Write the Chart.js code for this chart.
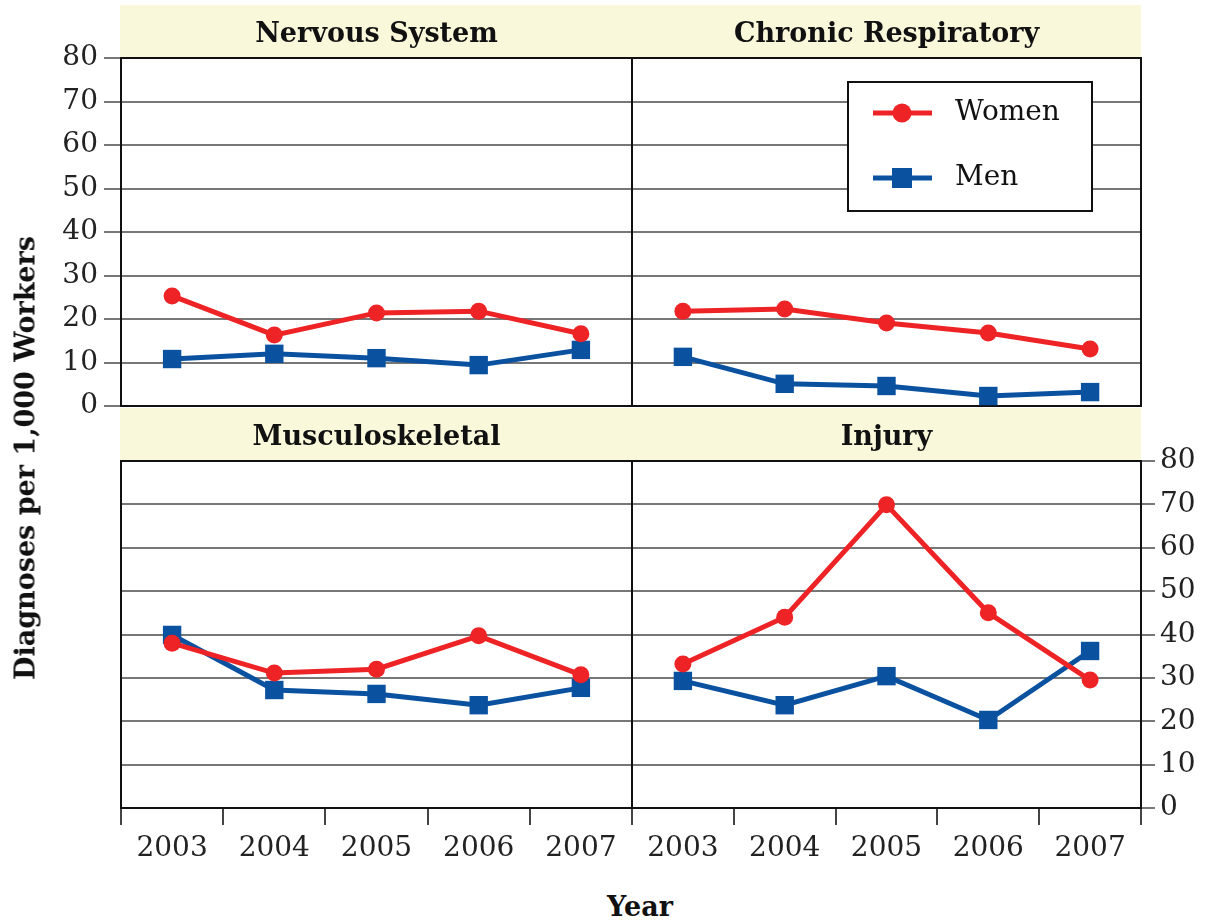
<!DOCTYPE html>
<html>
<head>
<meta charset="utf-8">
<script src="https://cdn.jsdelivr.net/npm/chart.js@4.4.1/dist/chart.umd.min.js"></script>
<style>
  body { margin: 0; background: #fff; }
  #wrap { position: relative; width: 1207px; height: 922px; overflow: hidden; }
  canvas { position: absolute; }
  .axis-title {
    position: absolute;
    font-family: "DejaVu Serif", serif;
    font-weight: bold;
    font-size: 27px;
    color: #111;
    white-space: nowrap;
    transform: translate(-50%, -50%);
  }
  #ytitle { transform: translate(-50%, -50%) rotate(-90deg); }
</style>
</head>
<body>
<div id="wrap">
  <canvas id="nervous" width="640" height="430" style="left:0;top:0"></canvas>
  <canvas id="respiratory" width="524" height="414" style="left:624px;top:0"></canvas>
  <canvas id="musculo" width="640" height="470" style="left:0;top:400px"></canvas>
  <canvas id="injury" width="583" height="470" style="left:624px;top:400px"></canvas>
  <div class="axis-title" id="ytitle" style="left:25px;top:458px">Diagnoses per 1,000 Workers</div>
  <div class="axis-title" style="left:640px;top:906px">Year</div>
</div>
<script>
const years = ['2003', '2004', '2005', '2006', '2007'];
const seriesNames = ['Women', 'Men'];

const nervousWomen = [25.3, 16.3, 21.4, 21.8, 16.6];
const nervousMen = [10.8, 12.0, 11.0, 9.4, 12.9];

const respiratoryWomen = [21.8, 22.3, 19.1, 16.8, 13.1];
const respiratoryMen = [11.3, 5.1, 4.6, 2.3, 3.2];

const musculoWomen = [38.0, 31.1, 32.0, 39.7, 30.7];
const musculoMen = [39.9, 27.2, 26.3, 23.7, 27.7];

const injuryWomen = [33.2, 44.0, 69.9, 45.0, 29.5];
const injuryMen = [29.3, 23.7, 30.4, 20.3, 36.2];

const RED = '#ee2326';
const BLUE = '#0a51a0';
const SERIF = '"DejaVu Serif", serif';

// beige title band above the plot + black frame round it
const panelFrame = {
  id: 'panelFrame',
  beforeDraw(chart, args, o) {
    const { ctx, chartArea: a } = chart;
    ctx.save();
    ctx.fillStyle = '#faf8da';
    ctx.fillRect(a.left - 1, a.top - 53, a.right - a.left + 1, 53);
    ctx.fillStyle = '#111';
    ctx.font = 'bold 27px ' + SERIF;
    ctx.textAlign = 'center';
    ctx.textBaseline = 'middle';
    ctx.fillText(o.text, (a.left + a.right) / 2, a.top - 23);
    ctx.restore();
  },
  beforeDatasetsDraw(chart) {
    const { ctx, chartArea: a } = chart;
    ctx.save();
    ctx.strokeStyle = '#111';
    ctx.lineWidth = 2;
    ctx.strokeRect(a.left, a.top, a.right - a.left, a.bottom - a.top);
    ctx.restore();
  }
};

// boxed legend inside the Chronic Respiratory panel
const boxLegend = {
  id: 'boxLegend',
  afterDatasetsDraw(chart, args, o) {
    if (!o.show) return;
    const { ctx, chartArea: a } = chart;
    const w = 244, h = 129;
    const x = a.right - 49 - w, y = a.top + 24;
    ctx.save();
    ctx.fillStyle = '#fff';
    ctx.fillRect(x, y, w, h);
    ctx.strokeStyle = '#111';
    ctx.lineWidth = 2;
    ctx.strokeRect(x, y, w, h);
    chart.data.datasets.forEach((ds, i) => {
      const cy = y + 31 + i * 65;
      ctx.strokeStyle = ds.borderColor;
      ctx.lineWidth = 5;
      ctx.beginPath();
      ctx.moveTo(x + 25, cy);
      ctx.lineTo(x + 84, cy);
      ctx.stroke();
      ctx.fillStyle = ds.borderColor;
      ctx.beginPath();
      if (ds.pointStyle === 'circle') {
        ctx.arc(x + 54, cy, 9.5, 0, Math.PI * 2);
      } else {
        ctx.rect(x + 44, cy - 10, 20, 20);
      }
      ctx.fill();
      ctx.fillStyle = '#111';
      ctx.font = '28px ' + SERIF;
      ctx.textAlign = 'left';
      ctx.textBaseline = 'middle';
      ctx.fillText(ds.label, x + 107, cy);
    });
    ctx.restore();
  }
};

function makePanel(id, title, women, men, opt) {
  const yAxis = {
    min: 0,
    max: 80,
    position: opt.yPos || 'left',
    border: { display: false },
    grid: {
      color: '#777',
      lineWidth: 2,
      drawTicks: !!opt.yLabels,
      tickLength: opt.yPos === 'right' ? 14 : 17
    },
    ticks: {
      display: !!opt.yLabels,
      stepSize: 10,
      padding: opt.yPos === 'right' ? 5 : 6,
      color: '#222',
      font: { family: SERIF, size: 28 }
    },
    afterFit(s) { s.width = opt.yWidth; }
  };
  const xAxis = {
    display: !!opt.xLabels,
    offset: true,
    border: { display: false },
    grid: {
      offset: true,
      drawOnChartArea: false,
      color: '#444',
      lineWidth: 2,
      tickLength: 17
    },
    ticks: {
      padding: 7,
      color: '#222',
      font: { family: SERIF, size: 28 }
    },
    afterFit(s) { s.height = opt.xLabels ? 62 : 0; }
  };
  return new Chart(document.getElementById(id), {
    type: 'line',
    data: {
      labels: years,
      datasets: [
        {
          label: seriesNames[0],
          data: women,
          borderColor: RED,
          backgroundColor: RED,
          borderWidth: 5,
          pointStyle: 'circle',
          pointRadius: 8.5,
          pointBorderWidth: 0,
          clip: false
        },
        {
          label: seriesNames[1],
          data: men,
          borderColor: BLUE,
          backgroundColor: BLUE,
          borderWidth: 5,
          pointStyle: 'rect',
          pointRadius: 13,
          pointBorderWidth: 0,
          clip: false
        }
      ]
    },
    options: {
      responsive: false,
      animation: false,
      layout: { padding: opt.padding, autoPadding: false },
      scales: { x: xAxis, y: yAxis },
      plugins: {
        legend: { display: false },
        tooltip: { enabled: false },
        panelFrame: { text: title },
        boxLegend: { show: !!opt.legend }
      }
    },
    plugins: [panelFrame, boxLegend]
  });
}

makePanel('nervous', 'Nervous System', nervousWomen, nervousMen, {
  yLabels: true, yWidth: 121,
  padding: { top: 58, right: 8, bottom: 24, left: 0 }
});
makePanel('respiratory', 'Chronic Respiratory', respiratoryWomen, respiratoryMen, {
  yWidth: 0, legend: true,
  padding: { top: 58, right: 7, bottom: 8, left: 8 }
});
makePanel('musculo', 'Musculoskeletal', musculoWomen, musculoMen, {
  yWidth: 121, xLabels: true,
  padding: { top: 61, right: 8, bottom: 0, left: 0 }
});
makePanel('injury', 'Injury', injuryWomen, injuryMen, {
  yLabels: true, yPos: 'right', yWidth: 66, xLabels: true,
  padding: { top: 61, right: 0, bottom: 0, left: 8 }
});
</script>
</body>
</html>
